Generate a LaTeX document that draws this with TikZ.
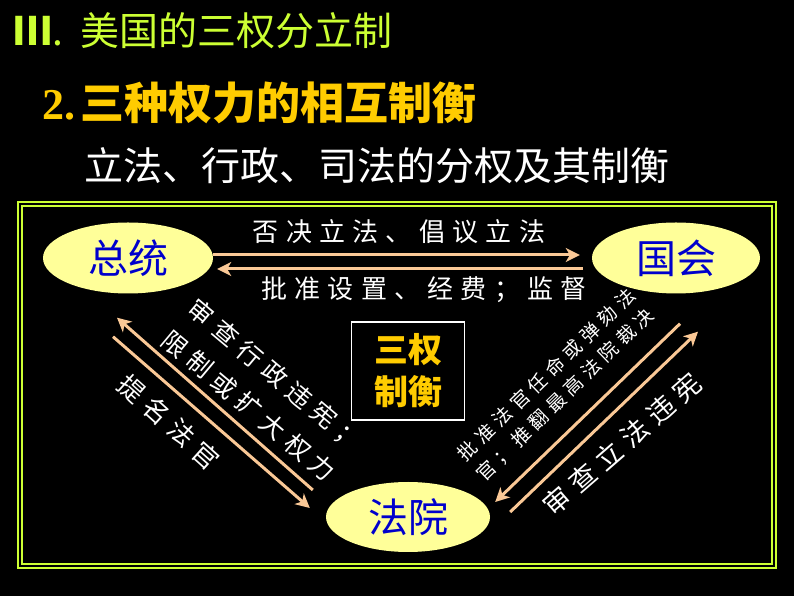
\documentclass[tikz,border=0pt]{standalone}
\usepackage{fontspec}
\usepackage{tikz}
\usetikzlibrary{arrows.meta,shapes,positioning}
\usepackage{xcolor}
\setmainfont{Noto Sans CJK SC}
\newfontfamily\cjk{Noto Sans CJK SC}
\newfontfamily\cjksp[LetterSpace=28]{Noto Sans CJK SC}
\newfontfamily\numfont{Liberation Serif}
\definecolor{ttgreen}{RGB}{204,255,51}
\definecolor{ttgold}{RGB}{255,204,0}
\definecolor{ellyellow}{RGB}{255,255,153}
\definecolor{ellblue}{RGB}{0,0,204}
\definecolor{arrtan}{RGB}{250,200,150}
\tikzstyle{power} = [ellipse,fill=ellyellow,inner sep=0pt,text=ellblue,font=\cjk\fontsize{40}{40}\selectfont]
\tikzstyle{arrow} = [line width=3pt,->,>={Stealth[length=14pt,width=14pt,inset=4pt]},color=arrtan]
\tikzstyle{lbl} = [text=white,inner sep=0pt]

\begin{document}
\begin{tikzpicture}[x=1pt,y=1pt]
\fill[black] (0,0) rectangle (794,596);
\useasboundingbox (0,0) rectangle (794,596);

% Headings
\node[anchor=west, inner sep=0pt, text=ttgreen, font=\cjk\fontsize{39}{39}\selectfont] (title) at (13,565) {{\bfseries Ⅲ}.\hspace{17pt}美国的三权分立制};
\node[anchor=west, inner sep=0pt, text=ttgold, font=\cjk\bfseries\fontsize{44}{44}\selectfont] (sub) at (42,493) {{\numfont\bfseries 2.}\hspace{5pt}三种权力的相互制衡};
\node[anchor=west, inner sep=0pt, text=white, font=\cjk\fontsize{39}{39}\selectfont] (theme) at (84,430) {立法、行政、司法的分权及其制衡};

% Frame
\draw[draw=ttgreen, double=black, line width=2pt, double distance=2pt] (20,30) rectangle (774,392);

% The three powers
\node[power, minimum width=170pt, minimum height=71pt] (pres) at (128,338) {总统};
\node[power, minimum width=168pt, minimum height=71pt] (cong) at (676,338) {国会};
\node[power, minimum width=164pt, minimum height=70pt] (court) at (408,79) {法院};
\node[draw=white, line width=1.5pt, minimum width=113pt, minimum height=98pt, align=center, text=ttgold, font=\cjk\bfseries\fontsize{34}{42}\selectfont] (checks) at (408,225) {三权\\制衡};

% President <-> Congress
\draw[arrow] ([yshift=3pt]pres.east) -- ([yshift=3pt,xshift=-12pt]cong.west);
\draw[arrow] ([yshift=-11pt,xshift=-9pt]cong.west) -- ([yshift=-11pt,xshift=4pt]pres.east);
\node[lbl, font=\cjksp\fontsize{26}{30}\selectfont] (veto) at (399,364) {否决立法、倡议立法};
\node[lbl, font=\cjksp\fontsize{26}{30}\selectfont] (fund) at (424,306) {批准设置、经费；监督};

% President <-> Court
\draw[arrow] ([shift={(-13pt,27pt)}]court.west) -- ([shift={(-11pt,-24pt)}]pres.south);
\draw[arrow] ([shift={(-15pt,-43pt)}]pres.south) -- ([shift={(-16pt,9pt)}]court.west);
\node[lbl, rotate=-40, align=center, font=\cjksp\fontsize{25}{41}\selectfont] (review) at (262,206) {审查行政违宪；\\限制或扩大权力};
\node[lbl, rotate=-42, font=\cjksp\fontsize{26}{30}\selectfont] (nominate) at (169,174) {提名法官};

% Congress <-> Court
\draw[arrow] ([shift={(4pt,-30pt)}]cong.south) -- ([shift={(5pt,15pt)}]court.east);
\draw[arrow] ([shift={(20pt,5pt)}]court.east) -- ([shift={(22pt,-38pt)}]cong.south);
\node[lbl, rotate=44, align=center, font=\cjksp\fontsize{19}{27}\selectfont] (approve) at (556,211) {批准法官任命或弹劾法\\官；推翻最高法院裁决};
\node[lbl, rotate=41, font=\cjksp\fontsize{27}{30}\selectfont] (judicial) at (622,152) {审查立法违宪};
\end{tikzpicture}
\end{document}
